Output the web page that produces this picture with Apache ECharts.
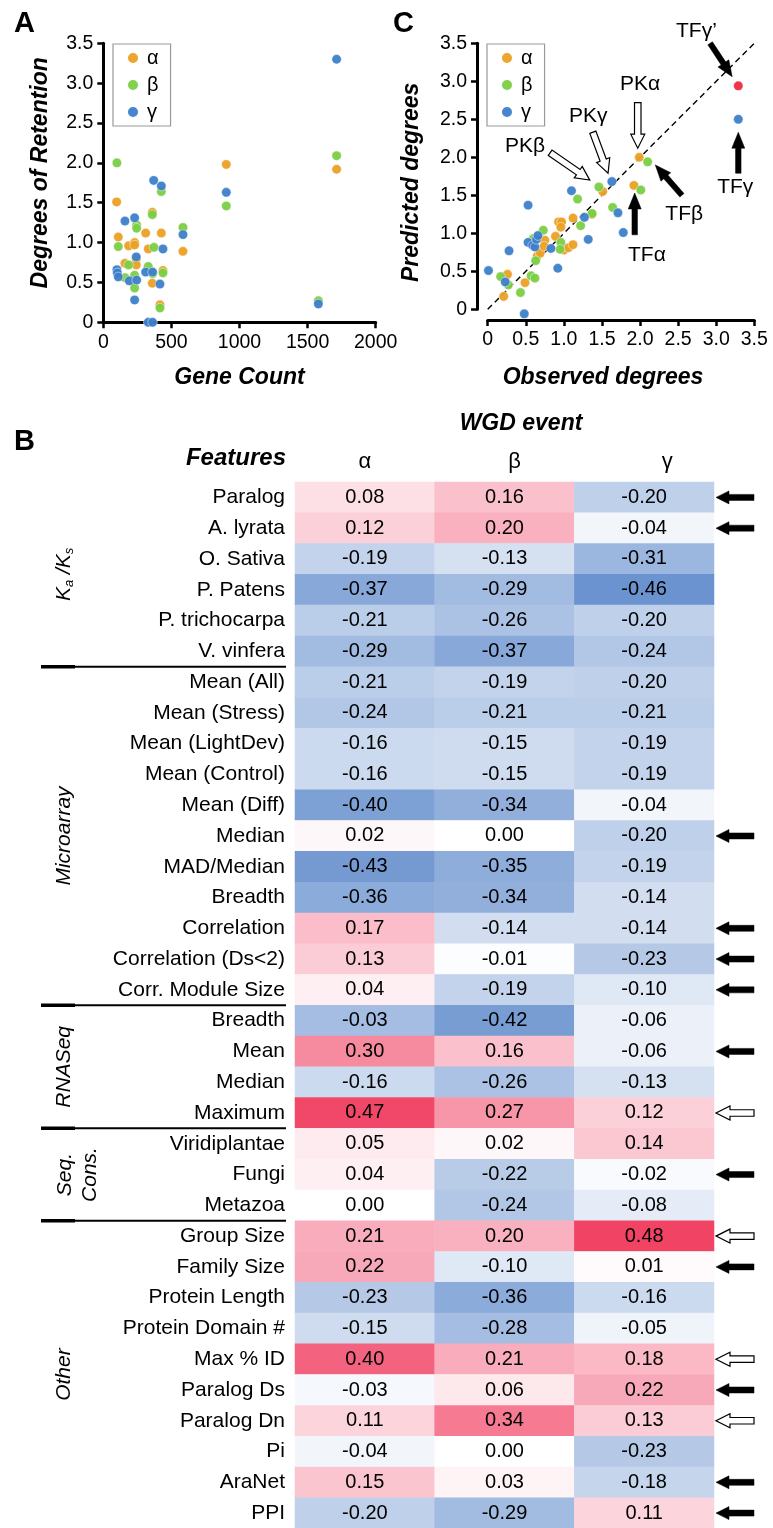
<!DOCTYPE html>
<html><head><meta charset="utf-8">
<script src="https://cdn.jsdelivr.net/npm/echarts/dist/echarts.min.js"></script>
<style>html,body{margin:0;padding:0;background:#fff}#c{width:773px;height:1528px}</style>
</head><body><div id="c"></div>
<script>
// ---------- DATA ----------
// Panel A: gene count vs degrees of retention
const geneAlpha = [[98,1.51],[110,1.07],[186,0.96],[230,1.00],[230,0.97],[242,0.79],[159,0.74],[242,0.72],[311,1.12],[426,1.12],[330,0.92],[360,1.38],[585,0.89],[438,0.65],[360,0.49],[416,0.22],[903,1.98],[1713,1.92]];
const geneBeta = [[100,2.00],[426,1.64],[903,1.46],[360,1.35],[245,1.22],[245,1.18],[585,1.19],[110,0.95],[372,0.94],[186,0.72],[159,0.56],[230,0.59],[330,0.70],[362,0.61],[438,0.62],[230,0.43],[416,0.18],[1579,0.27],[1713,2.09]];
const geneGamma = [[370,1.78],[426,1.71],[903,1.63],[159,1.27],[230,1.31],[585,1.10],[438,0.92],[242,0.82],[100,0.66],[103,0.62],[110,0.57],[191,0.52],[245,0.53],[311,0.63],[362,0.63],[416,0.48],[230,0.28],[330,0],[362,0],[1579,0.23],[1713,3.30]];
// Panel C: observed vs predicted degrees
const predAlpha = [[0.26,0.46],[0.21,0.17],[0.49,0.35],[0.65,0.70],[0.69,0.74],[0.75,0.91],[0.74,0.83],[0.89,0.96],[0.93,1.15],[0.97,1.15],[0.96,1.08],[1.00,0.78],[1.06,0.81],[1.12,0.85],[1.12,1.20],[1.37,1.25],[1.51,1.55],[1.92,1.63],[1.99,2.00]];
const predBeta = [[0.17,0.43],[0.27,0.32],[0.43,0.22],[0.57,0.44],[0.62,0.41],[0.63,0.64],[0.60,0.93],[0.73,1.04],[0.96,0.88],[0.95,0.79],[1.18,1.45],[1.22,1.10],[1.37,1.26],[1.46,1.61],[1.64,1.34],[2.01,1.57],[2.10,1.94]];
const predGamma = [[0.01,0.51],[0.23,0.36],[0.28,0.77],[0.48,-0.06],[0.53,1.37],[0.53,0.88],[0.59,0.84],[0.62,0.82],[0.64,0.92],[0.66,0.97],[0.83,0.80],[0.92,0.54],[1.10,1.56],[1.27,1.21],[1.32,0.92],[1.63,1.68],[1.71,1.27],[1.78,1.01],[3.29,2.50]];
const predTFgammaPrime = [[3.29,2.94]];
const diagonal = [[0,0],[3.5,3.5]];
const legendNames = ['α','β','γ'];
// Panel B: heatmap
const wgdEvents = ['α','β','γ'];
const featureLabels = ['Paralog','A. lyrata','O. Sativa','P. Patens','P. trichocarpa','V. vinfera',
 'Mean (All)','Mean (Stress)','Mean (LightDev)','Mean (Control)','Mean (Diff)','Median','MAD/Median','Breadth','Correlation','Correlation (Ds<2)','Corr. Module Size',
 'Breadth','Mean','Median','Maximum',
 'Viridiplantae','Fungi','Metazoa',
 'Group Size','Family Size','Protein Length','Protein Domain #','Max % ID','Paralog Ds','Paralog Dn','Pi','AraNet','PPI'];
const corrAlpha = [0.08,0.12,-0.19,-0.37,-0.21,-0.29,-0.21,-0.24,-0.16,-0.16,-0.40,0.02,-0.43,-0.36,0.17,0.13,0.04,-0.03,0.30,-0.16,0.47,0.05,0.04,0.00,0.21,0.22,-0.23,-0.15,0.40,-0.03,0.11,-0.04,0.15,-0.20];
const corrBeta = [0.16,0.20,-0.13,-0.29,-0.26,-0.37,-0.19,-0.21,-0.15,-0.15,-0.34,0.00,-0.35,-0.34,-0.14,-0.01,-0.19,-0.42,0.16,-0.26,0.27,0.02,-0.22,-0.24,0.20,-0.10,-0.36,-0.28,0.21,0.06,0.34,0.00,0.03,-0.29];
const corrGamma = [-0.20,-0.04,-0.31,-0.46,-0.20,-0.24,-0.20,-0.21,-0.19,-0.19,-0.04,-0.20,-0.19,-0.14,-0.14,-0.23,-0.10,-0.06,-0.06,-0.13,0.12,0.14,-0.02,-0.08,0.48,0.01,-0.16,-0.05,0.18,0.22,0.13,-0.23,-0.18,0.11];
// cell whose shading in the figure differs from its printed value
const shadeOverride = [{col:0,row:17,shade:-0.28}];
const featureGroups = [{name:'KaKs',from:0,to:5},{name:'Microarray',from:6,to:16},{name:'RNASeq',from:17,to:20},{name:'Seq.\nCons.',from:21,to:23},{name:'Other',from:24,to:33}];
const arrowRows = [0,1,11,14,15,16,18,20,22,24,25,28,29,30,32,33];
const arrowKinds = ['solid','solid','solid','solid','solid','solid','solid','open','solid','open','solid','open','solid','open','solid','solid'];
// Panel C callouts (data coordinates)
const callouts = [
 {text:'TFγ’', at:[2.74,3.66], from:[2.92,3.50], to:[3.21,3.06], kind:'solid'},
 {text:'PKα', at:[2.00,2.96], from:[1.97,2.72], to:[1.97,2.12], kind:'open'},
 {text:'PKγ', at:[1.32,2.54], from:[1.38,2.33], to:[1.58,1.79], kind:'open'},
 {text:'PKβ', at:[0.49,2.15], from:[0.82,2.06], to:[1.34,1.70], kind:'open'},
 {text:'TFβ', at:[2.58,1.25], from:[2.55,1.50], to:[2.20,1.90], kind:'solid'},
 {text:'TFα', at:[2.09,0.71], from:[1.93,0.98], to:[1.93,1.53], kind:'solid'},
 {text:'TFγ', at:[3.25,1.60], from:[3.29,1.79], to:[3.29,2.33], kind:'solid'}
];

// ---------- STYLE ----------
const FONT = "'Liberation Sans', Arial, Helvetica, sans-serif";
const COL = {a:'#EBA023', b:'#7ACF45', g:'#3D7EC9', r:'#EE2A3F'};
const fmtTick = v => v === 0 ? '0' : v.toFixed(1);

const heatData = [];
[corrAlpha, corrBeta, corrGamma].forEach((arr, c) => arr.forEach((v, r) => {
  const o = shadeOverride.find(s => s.col === c && s.row === r);
  heatData.push([c, r, v, o ? o.shade : v]);
}));

function valAxis(grid, name, opts) {
  return Object.assign({
    gridIndex: grid, type: 'value', min: 0, interval: 0.5, max: 3.5,
    axisLine: {show: true, onZero: false, lineStyle: {color: '#000', width: 3}},
    axisTick: {show: true, length: 6, lineStyle: {color: '#000', width: 2.5}},
    axisLabel: {fontSize: 19.5, color: '#000', fontFamily: FONT, margin: 10, formatter: fmtTick, hideOverlap: false},
    splitLine: {show: false},
    name: name, nameLocation: 'middle', nameMoveOverlap: false,
    nameTextStyle: {fontSize: 23, fontWeight: 'bold', fontStyle: 'italic', color: '#000', fontFamily: FONT}
  }, opts);
}
function scatter(name, data, color, xi) {
  return {type: 'scatter', name: name, xAxisIndex: xi, yAxisIndex: xi, data: data, symbolSize: 9.5, clip: false,
    itemStyle: {color: color, opacity: 0.95, borderColor: '#fff', borderWidth: 0.5}, z: 3, emphasis: {disabled: true}};
}
function legendAt(left) {
  return {data: legendNames, orient: 'vertical', left: left, top: 44, icon: 'circle', itemWidth: 12, itemHeight: 12,
    itemGap: 7, padding: [4, 12, 4, 13], borderColor: '#999', borderWidth: 1.2, selectedMode: false,
    textStyle: {fontSize: 20, lineHeight: 20, color: '#000', fontFamily: FONT, padding: [0, 0, 0, 3]}};
}

const chart = echarts.init(document.getElementById('c'));
chart.setOption({
  animation: false,
  backgroundColor: '#fff',
  textStyle: {fontFamily: FONT},
  grid: [
    {left: 103.3, top: 43.3, width: 272.4, height: 279, outerBoundsMode: 'none', containLabel: false},
    {left: 487.7, top: 43.3, width: 266.6, height: 266, outerBoundsMode: 'none', containLabel: false},
    {left: 295, top: 482, width: 419, height: 1046.5, outerBoundsMode: 'none', containLabel: false}
  ],
  xAxis: [
    valAxis(0, 'Gene Count', {max: 2000, interval: 500, nameGap: 44,
      axisLabel: {fontSize: 19.5, color: '#000', fontFamily: FONT, margin: 10, formatter: v => String(v), hideOverlap: false}}),
    valAxis(1, 'Observed degrees', {offset: 10.7, nameGap: 46, nameTextStyle: {fontSize: 23, fontWeight: 'bold', fontStyle: 'italic', color: '#000', fontFamily: FONT, padding: [0, 36, 0, 0]}}),
    {gridIndex: 2, type: 'category', data: wgdEvents, position: 'top',
      axisLine: {show: false}, axisTick: {show: false}, splitLine: {show: false},
      axisLabel: {fontSize: 22, color: '#000', fontFamily: FONT, margin: 9,
        formatter: (v, i) => '{c' + i + '|' + v + '}',
        rich: {c0: {fontSize: 22, padding: [0, 0, 0, 0]}, c1: {fontSize: 22, padding: [0, 0, 0, 20]}, c2: {fontSize: 22, padding: [0, 0, 0, 46]}}},
      name: 'WGD event', nameLocation: 'middle', nameGap: 47,
      nameTextStyle: {fontSize: 23, fontWeight: 'bold', fontStyle: 'italic', color: '#000', fontFamily: FONT, padding: [0, 0, 0, 33]}}
  ],
  yAxis: [
    valAxis(0, 'Degrees of Retention', {nameGap: 51, nameTextStyle: {fontSize: 23, fontWeight: 'bold', fontStyle: 'italic', color: '#000', fontFamily: FONT, padding: [0, 0, 0, 20]}}),
    valAxis(1, 'Predicted degrees', {offset: 10.7, nameGap: 54, nameTextStyle: {fontSize: 23, fontWeight: 'bold', fontStyle: 'italic', color: '#000', fontFamily: FONT, padding: [0, 12, 0, 0]}}),
    {gridIndex: 2, type: 'category', data: featureLabels, inverse: true,
      axisLine: {show: false}, axisTick: {show: false}, splitLine: {show: false},
      axisLabel: {fontSize: 21, color: '#000', fontFamily: FONT, margin: 10, interval: 0}}
  ],
  legend: [legendAt(113), legendAt(487)],
  visualMap: {type: 'continuous', show: false, seriesIndex: 8, dimension: 3, min: -0.5, max: 0.5,
    inRange: {color: ['#5E8ACB', '#FFFFFF', '#F03C5F']}},
  series: [
    scatter('α', geneAlpha, COL.a, 0),
    scatter('β', geneBeta, COL.b, 0),
    scatter('γ', geneGamma, COL.g, 0),
    {type: 'line', xAxisIndex: 1, yAxisIndex: 1, data: diagonal, symbol: 'none', silent: true, z: 1,
      lineStyle: {color: '#000', width: 1.4, type: [6, 4]}},
    scatter('α', predAlpha, COL.a, 1),
    scatter('β', predBeta, COL.b, 1),
    scatter('γ', predGamma, COL.g, 1),
    scatter('TFγ’', predTFgammaPrime, COL.r, 1),
    {type: 'heatmap', xAxisIndex: 2, yAxisIndex: 2, data: heatData, emphasis: {disabled: true},
      label: {show: true, fontSize: 20, color: '#000', fontFamily: FONT, formatter: p => p.value[2].toFixed(2)}}
  ]
});

// ---------- ANNOTATIONS ----------
function arrowPts(x1, y1, x2, y2, sw, hw, hl) {
  const dx = x2 - x1, dy = y2 - y1, L = Math.hypot(dx, dy), ux = dx / L, uy = dy / L, px = -uy, py = ux;
  const bx = x2 - ux * hl, by = y2 - uy * hl;
  return [[x1 + px * sw / 2, y1 + py * sw / 2], [bx + px * sw / 2, by + py * sw / 2], [bx + px * hw / 2, by + py * hw / 2],
    [x2, y2], [bx - px * hw / 2, by - py * hw / 2], [bx - px * sw / 2, by - py * sw / 2], [x1 - px * sw / 2, y1 - py * sw / 2]];
}
function arrowEl(p1, p2, kind, big) {
  const solid = kind === 'solid';
  const pts = solid ? arrowPts(p1[0], p1[1], p2[0], p2[1], big ? 5.5 : 6, big ? 13 : 13, big ? 16 : 13)
                    : arrowPts(p1[0], p1[1], p2[0], p2[1], 6.5, 14, 14);
  return {type: 'polygon', shape: {points: pts}, z: 10,
    style: solid ? {fill: '#000', stroke: '#000', lineWidth: 0.5} : {fill: '#fff', stroke: '#000', lineWidth: 1.2}};
}
const g = [];
const txt = (x, y, text, o) => g.push({type: 'text', z: 10, x: x, y: y, rotation: (o && o.rot) || 0,
  style: Object.assign({text: text, fill: '#000', font: (o && o.font) || ('21px ' + FONT), textAlign: (o && o.align) || 'left', textVerticalAlign: 'middle'}, (o && o.style) || {})});
txt(14, 24, 'A', {font: 'bold 29px ' + FONT});
txt(393, 24, 'C', {font: 'bold 29px ' + FONT});
txt(14, 442, 'B', {font: 'bold 29px ' + FONT});
txt(286, 458, 'Features', {font: 'italic bold 24px ' + FONT, align: 'right'});

// panel C callouts
callouts.forEach(c => {
  const a = chart.convertToPixel({gridIndex: 1}, c.at);
  txt(a[0], a[1], c.text, {font: '21px ' + FONT, align: 'center'});
  const p1 = chart.convertToPixel({gridIndex: 1}, c.from), p2 = chart.convertToPixel({gridIndex: 1}, c.to);
  g.push(arrowEl(p1, p2, c.kind, true));
});

// heatmap side groups
const cellY = r => chart.convertToPixel({gridIndex: 2}, [0, r])[1];
featureGroups.forEach((grp, i) => {
  const yc = (cellY(grp.from) + cellY(grp.to)) / 2;
  if (grp.name === 'KaKs') {
    g.push({type: 'text', z: 10, x: 64, y: yc, rotation: Math.PI / 2,
      style: {text: '{k|K}{s|a}{k| /K}{s|s}', textAlign: 'center', textVerticalAlign: 'middle', fill: '#000',
        rich: {k: {fontSize: 21, fontStyle: 'italic', fontFamily: FONT, fill: '#000', lineHeight: 24},
               s: {fontSize: 13, fontStyle: 'italic', fontFamily: FONT, fill: '#000', verticalAlign: 'bottom', lineHeight: 24, padding: [10, 0, 0, 0]}}}});
  } else if (grp.name.indexOf('\n') >= 0) {
    g.push({type: 'text', z: 10, x: 78, y: yc, rotation: Math.PI / 2,
      style: {text: grp.name, textAlign: 'center', textVerticalAlign: 'middle', fill: '#000', font: 'italic 21px ' + FONT, lineHeight: 25}});
  } else {
    txt(64, yc, grp.name, {rot: Math.PI / 2, font: 'italic 21px ' + FONT, align: 'center'});
  }
  if (i < featureGroups.length - 1) {
    const yb = (cellY(grp.to) + cellY(grp.to + 1)) / 2;
    g.push({type: 'line', z: 10, shape: {x1: 41, y1: yb, x2: 286, y2: yb}, style: {stroke: '#000', lineWidth: 2}});
    g.push({type: 'line', z: 10, shape: {x1: 41, y1: yb, x2: 75, y2: yb}, style: {stroke: '#000', lineWidth: 3.5}});
  }
});
// heatmap right-side arrows
arrowRows.forEach((r, i) => {
  const y = cellY(r);
  g.push(arrowEl([754, y], [716, y], arrowKinds[i], false));
});
chart.setOption({graphic: g});
</script></body></html>
